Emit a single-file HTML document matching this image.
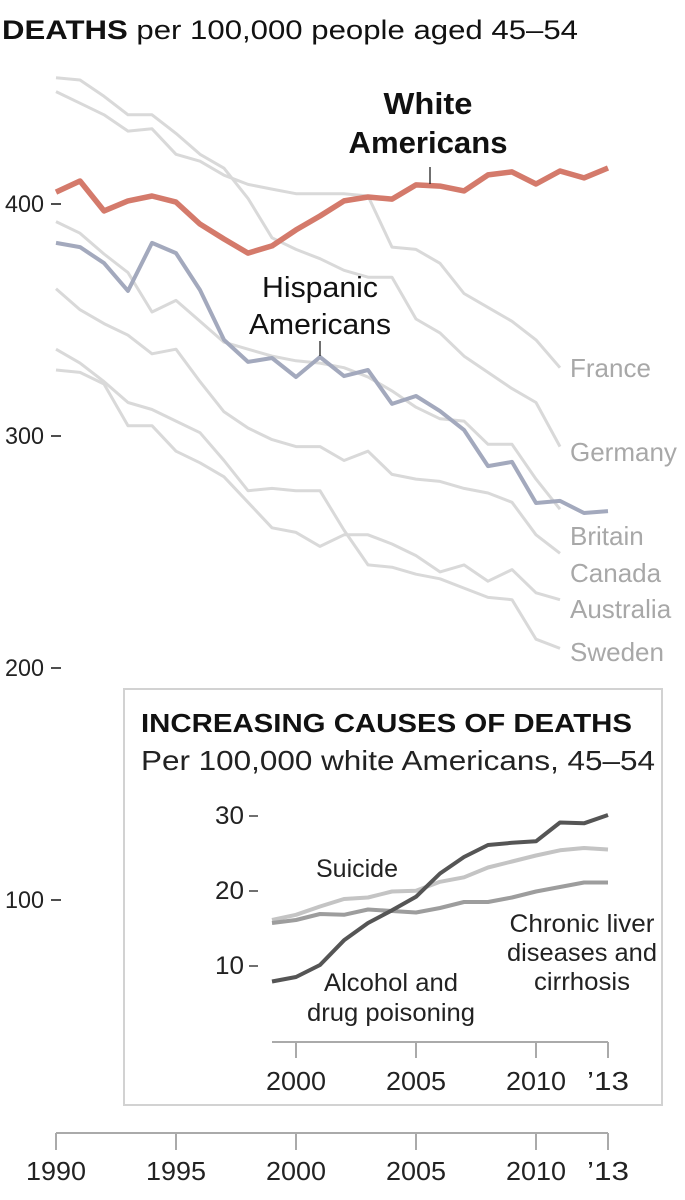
<!DOCTYPE html>
<html><head><meta charset="utf-8">
<style>
html,body{margin:0;padding:0;background:#fff;}
svg{display:block;font-family:"Liberation Sans",sans-serif;}
</style></head>
<body>
<svg id="chart" width="685" height="1200" viewBox="0 0 685 1200">
  <text x="2" y="39" font-size="27" fill="#111" textLength="576" lengthAdjust="spacingAndGlyphs"><tspan font-weight="bold">DEATHS</tspan> per 100,000 people aged 45–54</text>
  <g id="yaxis"></g>
  <g id="grays"></g>
  <g id="mains"></g>
  <g id="xaxis"></g>
  <text x="428" y="114" font-size="31" font-weight="bold" text-anchor="middle" fill="#111" textLength="89" lengthAdjust="spacingAndGlyphs">White</text>
  <text x="428" y="153" font-size="31" font-weight="bold" text-anchor="middle" fill="#111" textLength="159" lengthAdjust="spacingAndGlyphs">Americans</text>
  <line x1="430" y1="167" x2="430" y2="184" stroke="#222" stroke-width="1.3"/>
  <text x="320" y="297" font-size="29" text-anchor="middle" fill="#111" textLength="116" lengthAdjust="spacingAndGlyphs">Hispanic</text>
  <text x="320" y="334" font-size="29" text-anchor="middle" fill="#111" textLength="142" lengthAdjust="spacingAndGlyphs">Americans</text>
  <line x1="320" y1="341" x2="320" y2="356" stroke="#222" stroke-width="1.3"/>

  <rect x="124" y="689" width="538" height="416" fill="none" stroke="#d2d2d2" stroke-width="2"/>
  <text x="141" y="732" font-size="26" font-weight="bold" fill="#111" textLength="491" lengthAdjust="spacingAndGlyphs">INCREASING CAUSES OF DEATHS</text>
  <text x="141" y="770" font-size="28" fill="#222" textLength="514" lengthAdjust="spacingAndGlyphs">Per 100,000 white Americans, 45–54</text>
  <g id="inset"></g>
  <text x="357" y="877" font-size="25" text-anchor="middle" fill="#222" textLength="82" lengthAdjust="spacingAndGlyphs">Suicide</text>
  <text x="391" y="991" font-size="25" text-anchor="middle" fill="#222" textLength="134" lengthAdjust="spacingAndGlyphs">Alcohol and</text>
  <text x="391" y="1021" font-size="25" text-anchor="middle" fill="#222" textLength="168" lengthAdjust="spacingAndGlyphs">drug poisoning</text>
  <text x="582" y="932" font-size="25" text-anchor="middle" fill="#222" textLength="145" lengthAdjust="spacingAndGlyphs">Chronic liver</text>
  <text x="582" y="961" font-size="25" text-anchor="middle" fill="#222" textLength="150" lengthAdjust="spacingAndGlyphs">diseases and</text>
  <text x="582" y="990" font-size="25" text-anchor="middle" fill="#222" textLength="96" lengthAdjust="spacingAndGlyphs">cirrhosis</text>
</svg>
<script>
const years = [1990,1991,1992,1993,1994,1995,1996,1997,1998,1999,2000,2001,2002,2003,2004,2005,2006,2007,2008,2009,2010,2011,2012,2013];
const whiteUS = [404.7,409.5,396.6,400.9,403.0,400.4,390.9,384.5,378.4,381.5,388.4,394.4,400.9,402.6,401.7,407.8,407.3,405.2,412.1,413.4,408.2,413.8,410.8,415.1];
const hispanicUS = [382.8,381.0,374.1,362.1,382.8,378.4,362.5,341.0,331.5,333.2,325.0,333.6,325.4,328.0,313.4,316.8,310.3,302.2,286.6,288.4,270.7,271.6,266.4,267.2];
const countryNames = ["France","Germany","Britain","Canada","Australia","Sweden"];
const france = [448,443,438,431,432,421,418,412,408,406,404,404,404,403,381,380,374,361,355,349,341,329];
const germany = [454,453,446,438,438,430,421,415,402,385,380,376,371,368,368,350,344,334,327,320,314,295];
const britain = [392,387,378,370,353,358,349,340,337,334,332,331,329,325,319,312,307,306,296,296,281,268];
const canada = [363,354,348,343,335,337,323,310,303,298,295,295,289,293,283,281,280,277,275,271,257,249];
const australia = [328,327,322,304,304,293,288,282,271,260,258,252,257,257,253,248,241,244,237,242,232,229];
const sweden = [337,331,323,314,311,306,301,289,276,277,276,276,259,244,243,240,238,234,230,229,212,208];
const labelYs = [368,452,536,573,609,652];
const yTicks = [400,300,200,100];
const xTickYears = [1990,1995,2000,2005,2010,2013];
const xTickLabels = ["1990","1995","2000","2005","2010","’13"];

const insetYears = [1999,2000,2001,2002,2003,2004,2005,2006,2007,2008,2009,2010,2011,2012,2013];
const alcohol = [7.8,8.4,10,13.3,15.6,17.3,19.1,22.2,24.4,26.0,26.3,26.5,29.0,28.9,30.0];
const suicide = [16.0,16.7,17.8,18.8,19.0,19.8,19.9,21.1,21.7,23.0,23.8,24.6,25.3,25.6,25.4];
const liver = [15.6,16.0,16.8,16.7,17.4,17.2,17.0,17.6,18.4,18.4,19.0,19.8,20.4,21.0,21.0];
const insetYTicks = [30,20,10];
const insetXTicks = [2000,2005,2010,2013];
const insetXLabels = ["2000","2005","2010","’13"];

const NS = "http://www.w3.org/2000/svg";
const xS = y => 56 + (y - 1990) * 24;
const yS = v => 203 + (400 - v) * 2.32;
const iyS = v => 965 - (v - 10) * 7.5;
function mk(tag, attrs, parent){const e=document.createElementNS(NS,tag);for(const k in attrs)e.setAttribute(k,attrs[k]);parent.appendChild(e);return e;}
function pts(xs, vs, ys){return vs.map((v,i)=>xS(xs[i]).toFixed(1)+","+ys(v).toFixed(1)).join(" ");}

const yax = document.getElementById("yaxis");
yTicks.forEach(t=>{
  const tx = mk("text",{x:44,y:yS(t)+9,"font-size":24,"text-anchor":"end",fill:"#222",textLength:t>=100?39:26,lengthAdjust:"spacingAndGlyphs"},yax);
  tx.textContent = t;
  
  
  const l = mk("line",{x1:51,x2:61,y1:yS(t)+1,y2:yS(t)+1,stroke:"#222","stroke-width":1.6},yax);
  
  
});

const gg = document.getElementById("grays");
[france,germany,britain,canada,australia,sweden].forEach((s,k)=>{
  const p = mk("polyline",{points:pts(years,s,yS),fill:"none",stroke:"#d9d9d9","stroke-width":3,"stroke-linejoin":"round"},gg);
  
  
  const t = mk("text",{x:570,y:labelYs[k]+9,"font-size":26,fill:"#a8a8a8"},gg);
  t.textContent = countryNames[k];
  
  
});

const mg = document.getElementById("mains");
const hl = mk("polyline",{points:pts(years,hispanicUS,yS),fill:"none",stroke:"#a3a9bd","stroke-width":4,"stroke-linejoin":"round"},mg);


const wl = mk("polyline",{points:pts(years,whiteUS,yS),fill:"none",stroke:"#d47a6b","stroke-width":5.5,"stroke-linejoin":"round"},mg);



const xa = document.getElementById("xaxis");
const axl = mk("line",{x1:56,x2:608,y1:1133,y2:1133,stroke:"#aaa","stroke-width":2},xa);


xTickYears.forEach((y,i)=>{
  const l = mk("line",{x1:xS(y),x2:xS(y),y1:1133,y2:1150,stroke:"#aaa","stroke-width":2},xa);
  
  
  const t = mk("text",{x:xS(y),y:1180,"font-size":26,"text-anchor":"middle",fill:"#222",textLength:i<5?60:42,lengthAdjust:"spacingAndGlyphs"},xa);
  t.textContent = xTickLabels[i];
  
  
});

const ig = document.getElementById("inset");
insetYTicks.forEach(t=>{
  const tx = mk("text",{x:244,y:iyS(t)+9,"font-size":25,"text-anchor":"end",fill:"#222",textLength:29,lengthAdjust:"spacingAndGlyphs"},ig);
  tx.textContent = t;
  
  
  const l = mk("line",{x1:249,x2:258,y1:iyS(t)+1,y2:iyS(t)+1,stroke:"#222","stroke-width":1.3},ig);
  
  
});
const ial = mk("line",{x1:272,x2:608,y1:1042,y2:1042,stroke:"#aaa","stroke-width":2},ig);


insetXTicks.forEach((y,i)=>{
  const l = mk("line",{x1:xS(y),x2:xS(y),y1:1042,y2:1058,stroke:"#aaa","stroke-width":2},ig);
  
  
  const t = mk("text",{x:xS(y),y:1090,"font-size":26,"text-anchor":"middle",fill:"#222",textLength:i<3?60:42,lengthAdjust:"spacingAndGlyphs"},ig);
  t.textContent = insetXLabels[i];
  
  
});
const sl = mk("polyline",{points:pts(insetYears,suicide,iyS),fill:"none",stroke:"#c4c4c4","stroke-width":4,"stroke-linejoin":"round"},ig);


const ll = mk("polyline",{points:pts(insetYears,liver,iyS),fill:"none",stroke:"#9d9d9d","stroke-width":4,"stroke-linejoin":"round"},ig);


const al = mk("polyline",{points:pts(insetYears,alcohol,iyS),fill:"none",stroke:"#555","stroke-width":4,"stroke-linejoin":"round"},ig);


</script>
</body></html>
